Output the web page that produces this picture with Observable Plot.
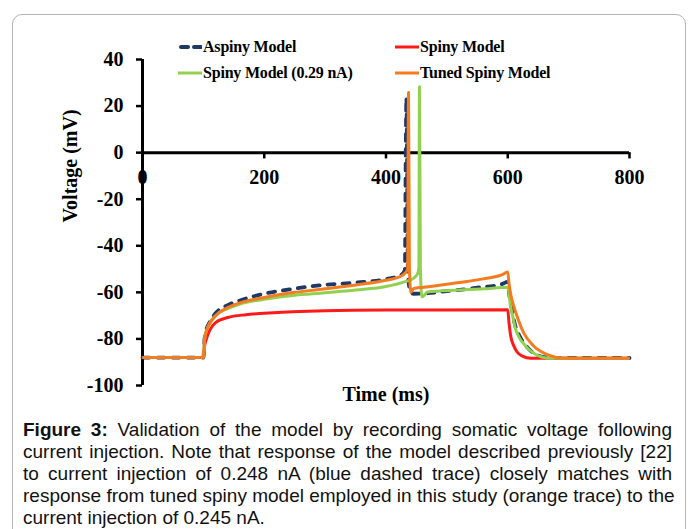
<!DOCTYPE html>
<html>
<head>
<meta charset="utf-8">
<script src="https://cdn.jsdelivr.net/npm/d3@7"></script>
<script src="https://cdn.jsdelivr.net/npm/@observablehq/plot@0.6"></script>
<style>
  html, body { margin: 0; padding: 0; background: #fff; }
  body { width: 691px; height: 529px; position: relative; overflow: hidden; }
  #frame { position: absolute; left: 12px; top: 14px; width: 674px; height: 540px;
           border: 1.5px solid #b4b4b4; border-radius: 10px; box-sizing: border-box; }
  #chart { position: absolute; left: 0; top: 0; }
  #legend { position: absolute; left: 0; top: 0; width: 691px; height: 90px;
            font-family: "Liberation Serif", "Times New Roman", serif; font-weight: bold;
            font-size: 16px; letter-spacing: -0.2px; color: #000; }
  .item { position: absolute; display: flex; align-items: center; white-space: nowrap; }
  .item svg { margin-right: 1px; }
  #caption { position: absolute; left: 23px; top: 419px; width: 649px;
             font-family: "Liberation Sans", Arial, sans-serif; font-size: 19px;
             line-height: 22px; color: #111; }
  #caption .ln { display: block; white-space: nowrap; text-align: justify; text-align-last: justify; }
  #caption .ln.last { text-align-last: left; }
</style>
</head>
<body>
<div id="frame"></div>
<div id="chart"></div>
<div id="legend"></div>
<div id="caption"><span class="ln"><b>Figure 3:</b> Validation of the model by recording somatic voltage following</span><span class="ln">current injection. Note that response of the model described previously [22]</span><span class="ln">to current injection of 0.248 nA (blue dashed trace) closely matches with</span><span class="ln">response from tuned spiny model employed in this study (orange trace) to the</span><span class="ln last">current injection of 0.245 nA.</span></div>
<script>
// ---- data: [time (ms), voltage (mV)] ----
const aspiny = [
  [0,-88],[100,-88],[102,-80],[105,-76],[110,-73],[120,-69],[140,-65.5],[160,-63.5],
  [200,-60.6],[250,-58.4],[290,-57],[350,-55.8],[400,-54.3],[425,-52.5],[431,-50.5],
  [432.5,0],[433.5,23.6],[434.5,0],[436,-52],[440,-59.5],[445,-60.6],[460,-60.5],
  [500,-59.5],[550,-58],[590,-56.5],[600,-55.5],[602,-60],[606,-66],[612,-74],
  [620,-79],[630,-83],[642,-86],[660,-87.8],[680,-88.2],[800,-88.2]
];
const spiny = [
  [0,-88],[100,-88],[102,-83],[105,-80],[110,-76.5],[120,-73],[140,-70.8],[170,-69.6],
  [200,-69],[300,-67.9],[400,-67.6],[600,-67.5],[602,-73],[605,-79],[610,-83],
  [615,-85.5],[625,-87.5],[637,-88.3],[800,-88.3]
];
const spiny029 = [
  [0,-88],[100,-88],[102,-80],[105,-76.5],[110,-73.5],[120,-70],[140,-67],[160,-65],
  [200,-63],[250,-61.2],[300,-60.2],[350,-59],[400,-57.5],[430,-55.5],[445,-54],
  [452,-52],[454,-49],[455,28.3],[456.5,-50],[459,-62],[462,-61.5],[468,-59.8],
  [520,-59],[560,-58.5],[600,-57.8],[602,-60.5],[604,-65],[608,-70],[612,-75],
  [618,-79],[626,-82],[642,-86],[670,-88.3],[800,-88.3]
];
const tuned = [
  [0,-88],[100,-88],[102,-80],[105,-76.5],[110,-73.5],[120,-70],[140,-66.5],[160,-64.5],
  [200,-62.2],[250,-60],[290,-58.8],[350,-56.8],[400,-54.8],[425,-53],[432,-51.5],
  [435.5,-50],[437,25.8],[438.5,-50],[441,-60],[445,-58.4],[470,-57.6],[520,-55.8],
  [560,-54.2],[590,-52.5],[600,-51.3],[602,-56],[605,-61],[610,-66],[616,-70.8],
  [626,-77.3],[642,-82.9],[665,-86.7],[691,-88.2],[720,-88.3],[800,-88.3]
];
const yTicks = [40, 20, 0, -20, -40, -60, -80, -100];
const xTicks = [0, 200, 400, 600, 800];
const series = [
  {name: "Aspiny Model", color: "#1f3864", dashed: true, data: aspiny},
  {name: "Spiny Model", color: "#ff1a1a", dashed: false, data: spiny},
  {name: "Spiny Model (0.29 nA)", color: "#92d050", dashed: false, data: spiny029},
  {name: "Tuned Spiny Model", color: "#f47b20", dashed: false, data: tuned}
];

const serif = "Liberation Serif, Times New Roman, serif";
const rows = series.flatMap(s => s.data.map(([t, v]) => ({series: s.name, t, v})));

const lineMark = s => Plot.line(rows.filter(r => r.series === s.name), {
  x: "t", y: "v", stroke: s.color, strokeWidth: s.dashed ? 3.8 : 3,
  strokeDasharray: s.dashed ? "7,8" : null, strokeLinecap: s.dashed ? "round" : "butt",
  curve: "monotone-x"
});

const chart = Plot.plot({
  width: 691, height: 410,
  marginLeft: 142, marginRight: 62, marginTop: 59, marginBottom: 25,
  x: {domain: [0, 800]},
  y: {domain: [-100, 40]},
  style: {background: "transparent", fontFamily: serif, fontWeight: "bold", fontSize: "20px", color: "#000"},
  marks: [
    Plot.text(xTicks, {x: d => d, y: 0, dy: 25, text: d => String(d), fontSize: 20,
      fontWeight: "bold", fontFamily: serif, fill: "#000"}),
    Plot.axisY({ticks: yTicks, tickSize: 6, tickPadding: 13, fontSize: 20, fontWeight: "bold",
      fontFamily: serif, stroke: "#000", strokeWidth: 2.5, label: null, color: "#000",
      tickFormat: d => String(d)}),
    Plot.axisX({ticks: [], label: null}),
    Plot.ruleX(xTicks.slice(1), {x: d => d, y1: 0, y2: -2.7, stroke: "#000", strokeWidth: 2.5}),
    Plot.ruleY([0], {stroke: "#000", strokeWidth: 3}),
    Plot.ruleX([0], {stroke: "#000", strokeWidth: 3}),
    Plot.text(["Voltage (mV)"], {frameAnchor: "left", rotate: -90, dx: -72, fontSize: 20,
      fontWeight: "bold", fontFamily: serif, fill: "#000"}),
    Plot.text(["Time (ms)"], {frameAnchor: "bottom", dy: 15, fontSize: 20,
      fontWeight: "bold", fontFamily: serif, fill: "#000"}),
    lineMark(series[0]),
    lineMark(series[1]),
    lineMark(series[2]),
    lineMark(series[3])
  ]
});
document.getElementById("chart").appendChild(chart);

// legend (HTML, drawn over the plot)
const legendPos = [
  {left: 178, top: 47}, {left: 395, top: 47}, {left: 178, top: 73}, {left: 395, top: 73}
];
const legend = document.getElementById("legend");
series.forEach((s, i) => {
  const div = document.createElement("div");
  div.className = "item";
  div.style.left = legendPos[i].left + "px";
  div.style.top = (legendPos[i].top - 10) + "px";
  div.style.height = "20px";
  const dash = s.dashed ? 'stroke-dasharray="7,6" stroke-linecap="round" stroke-width="4"' : 'stroke-width="3"';
  div.innerHTML = `<svg width="24" height="10"><line x1="${s.dashed ? 3 : 0}" y1="5" x2="24" y2="5" stroke="${s.color}" ${dash}/></svg><span>${s.name}</span>`;
  legend.appendChild(div);
});
</script>
</body>
</html>
